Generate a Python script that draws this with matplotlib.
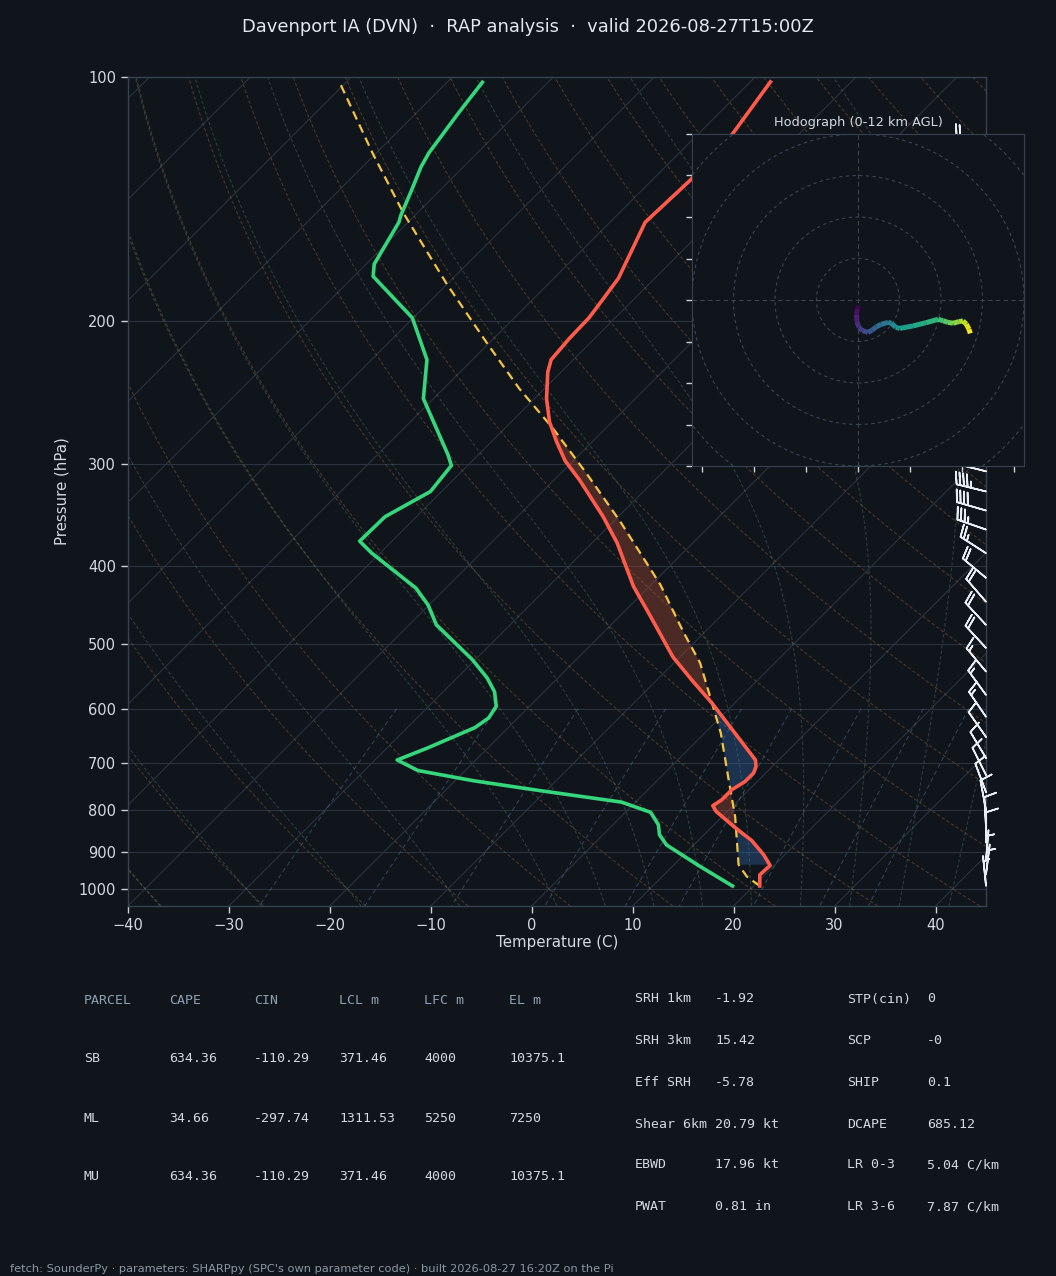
import numpy as np
import matplotlib
matplotlib.use("Agg")
import matplotlib.pyplot as plt
from matplotlib.axes import Axes
import matplotlib.axis as maxis
import matplotlib.spines as mspines
import matplotlib.transforms as transforms
from matplotlib.projections import register_projection
from matplotlib.collections import LineCollection
from matplotlib.patches import Circle
from matplotlib.ticker import MultipleLocator, FixedLocator, FixedFormatter, NullLocator
from contextlib import ExitStack

# ---------------- data ----------------
title_text = "Davenport IA (DVN)  \u00b7  RAP analysis  \u00b7  valid 2026-08-27T15:00Z"
footer_text = ("fetch: SounderPy \u00b7 parameters: SHARPpy (SPC's own parameter code) "
               "\u00b7 built 2026-08-27 16:20Z on the Pi")

# temperature profile (hPa, degC)
temp_p = [992, 961, 936, 908, 872, 842, 803, 790, 777, 755, 738, 720, 707, 694,
          591, 556, 518, 462, 424, 375, 348, 314, 297, 281, 266, 249, 231, 223,
          210, 198, 187, 177, 163, 151, 145, 134, 117.5, 101.4]
temp_c = [20.6, 19.5, 19.6, 17.9, 15.3, 12.5, 8.9, 8.0, 8.3, 8.3, 8.8, 8.8, 8.4, 7.7,
          -2.2, -6.2, -10.7, -16.9, -21.6, -27.5, -31.5, -37.4, -40.8, -43.6, -46.2,
          -48.8, -51.3, -52.2, -52.5, -52.6, -53.1, -53.6, -55.1, -56.5, -56.4, -56.2,
          -56.6, -58.0]

# dewpoint profile (hPa, degC)
dew_p = [992, 939, 883, 858, 834, 805, 782, 757, 736, 715, 694, 671, 633, 616, 596,
         572, 550, 522, 473, 447, 426, 386, 373, 348, 324, 301, 292, 249, 223, 198,
         176, 170, 151, 148, 138, 129, 124, 111, 101.5]
dew_c = [17.9, 12.8, 7.3, 5.6, 4.5, 2.5, -1.4, -10.6, -18.2, -24.7, -27.8, -26.0,
         -23.3, -22.9, -23.3, -24.9, -27.0, -30.3, -37.3, -40.1, -43.0, -50.8, -53.2,
         -53.1, -51.1, -51.6, -53.0, -61.0, -64.5, -70.1, -78.1, -79.2, -80.9, -81.4,
         -82.8, -84.2, -84.8, -85.8, -86.5]

# surface-based parcel path (hPa, degC)
parcel_p = [992, 966, 934, 815, 734, 643, 582, 527, 482, 422, 353, 308, 271, 242,
            212, 180, 147, 124, 102]
parcel_c = [20.6, 18.4, 16.4, 11.3, 7.0, 1.6, -2.9, -7.4, -12.2, -19.1, -29.3,
            -37.4, -45.2, -52.5, -60.4, -70.0, -81.4, -90.4, -100.4]
lcl_hpa = 934
el_hpa = 271

# wind barbs (hPa, kt)
barb_p = [992, 960, 922, 877, 840, 800, 760, 724, 690, 650, 614, 577, 540, 505, 473,
          443, 414, 386, 361, 342, 324, 306, 289, 273, 258, 244, 230, 217, 205, 194,
          183, 173, 163, 154, 145, 137, 129, 121]
barb_u = [0.3, -0.5, -0.5, 0.0, 0.5, 1.5, 3.0, 4.5, 6.0, 7.0, 7.5, 8.0, 10.0, 12.0,
          13.0, 13.0, 15.5, 21.0, 33.0, 38.0, 42.6, 44.0, 46.0, 48.0, 50.0, 51.0,
          52.0, 53.0, 53.5, 54.0, 52.0, 48.0, 44.0, 40.0, 35.0, 30.0, 26.0, 20.0]
barb_v = [-3.0, -4.0, -6.0, -8.0, -9.0, -8.0, -8.0, -9.0, -10.0, -10.0, -11.0, -11.0,
          -12.0, -13.0, -14.0, -15.0, -13.0, -13.5, -11.5, -11.0, -10.4, -11.0, -11.5,
          -10.5, -10.0, -11.0, -12.0, -13.5, -15.0, -16.0, -16.0, -15.0, -14.0, -12.0,
          -10.0, -9.0, -8.0, -5.0]

# hodograph trace 0-12 km (kt)
hodo_u = [0.3, -0.3, -0.8, -0.5, 0.5, 2.1, 4.8, 6.9, 8.8, 11.2, 14.5, 16.1, 18.2,
          20.1, 26.5, 32.9, 38.6, 41.0, 43.4, 45.8, 48.7, 50.6, 52.2, 53.5, 54.1]
hodo_v = [-2.9, -4.5, -7.2, -10.4, -13.2, -14.8, -15.6, -14.5, -12.9, -11.7, -10.8,
          -11.2, -13.2, -13.7, -12.5, -10.9, -9.3, -10.0, -10.8, -11.2, -10.4, -10.1,
          -11.6, -14.1, -16.1]
hodo_rings = [20, 40, 60, 80, 100]

# parameter tables
parcel_header = ["PARCEL", "CAPE", "CIN", "LCL m", "LFC m", "EL m"]
parcel_rows = [["SB", "634.36", "-110.29", "371.46", "4000", "10375.1"],
               ["ML", "34.66", "-297.74", "1311.53", "5250", "7250"],
               ["MU", "634.36", "-110.29", "371.46", "4000", "10375.1"]]
param_names_1 = ["SRH 1km", "SRH 3km", "Eff SRH", "Shear 6km", "EBWD", "PWAT"]
param_vals_1 = ["-1.92", "15.42", "-5.78", "20.79 kt", "17.96 kt", "0.81 in"]
param_names_2 = ["STP(cin)", "SCP", "SHIP", "DCAPE", "LR 0-3", "LR 3-6"]
param_vals_2 = ["0", "-0", "0.1", "685.12", "5.04 C/km", "7.87 C/km"]

p_ticks = [100, 200, 300, 400, 500, 600, 700, 800, 900, 1000]

# ---------------- styling ----------------
BG = "#10151b"
GRID = "#2a333f"
SPINE = "#364252"
TXT = "#d3d9e0"
T_COL = "#ff5b4b"
TD_COL = "#35d67c"
PARCEL_COL = "#f4c445"

W_PX, H_PX = 1056, 1276
DPI = 100
ax_l, ax_r, ax_t, ax_b = 128, 986, 77, 906


def _inside(interval, val):
    a, b = sorted(interval)
    return a - 1e-9 <= val <= b + 1e-9


class SkewXTick(maxis.XTick):
    def draw(self, renderer):
        with ExitStack() as stack:
            for artist in [self.gridline, self.tick1line, self.tick2line,
                           self.label1, self.label2]:
                stack.callback(artist.set_visible, artist.get_visible())
            needs_lower = _inside(self.axes.lower_xlim, self.get_loc())
            needs_upper = _inside(self.axes.upper_xlim, self.get_loc())
            self.tick1line.set_visible(self.tick1line.get_visible() and needs_lower)
            self.label1.set_visible(self.label1.get_visible() and needs_lower)
            self.tick2line.set_visible(self.tick2line.get_visible() and needs_upper)
            self.label2.set_visible(self.label2.get_visible() and needs_upper)
            super().draw(renderer)

    def get_view_interval(self):
        return self.axes.xaxis.get_view_interval()


class SkewXAxis(maxis.XAxis):
    def _get_tick(self, major):
        return SkewXTick(self.axes, None, major=major)

    def get_view_interval(self):
        return self.axes.upper_xlim[0], self.axes.lower_xlim[1]


class SkewSpine(mspines.Spine):
    def _adjust_location(self):
        pts = self._path.vertices
        if self.spine_type == 'top':
            pts[:, 0] = self.axes.upper_xlim
        else:
            pts[:, 0] = self.axes.lower_xlim


class SkewXAxes(Axes):
    name = 'skewx'
    rot = float(np.degrees(np.arctan((ax_b - ax_t) / (ax_r - ax_l))))

    def _init_axis(self):
        self.xaxis = SkewXAxis(self)
        self.spines.top.register_axis(self.xaxis)
        self.spines.bottom.register_axis(self.xaxis)
        self.yaxis = maxis.YAxis(self)
        self.spines.left.register_axis(self.yaxis)
        self.spines.right.register_axis(self.yaxis)

    def _gen_axes_spines(self):
        return {'top': SkewSpine.linear_spine(self, 'top'),
                'bottom': mspines.Spine.linear_spine(self, 'bottom'),
                'left': mspines.Spine.linear_spine(self, 'left'),
                'right': mspines.Spine.linear_spine(self, 'right')}

    def _set_lim_and_transforms(self):
        super()._set_lim_and_transforms()
        rot = self.rot
        self.transDataToAxes = (self.transScale + self.transLimits
                                + transforms.Affine2D().skew_deg(rot, 0))
        self.transData = self.transDataToAxes + self.transAxes
        self._xaxis_transform = (
            transforms.blended_transform_factory(
                self.transScale + self.transLimits, transforms.IdentityTransform())
            + transforms.Affine2D().skew_deg(rot, 0) + self.transAxes)

    @property
    def lower_xlim(self):
        return self.axes.viewLim.intervalx

    @property
    def upper_xlim(self):
        pts = [[0., 1.], [1., 1.]]
        return self.transDataToAxes.inverted().transform(pts)[:, 0]


register_projection(SkewXAxes)


# background thermodynamic guide lines
def moist_adiabats(p_grid, t0_c, p_ref=1000.0):
    Rd, Cp, Lv, eps = 287.04, 1005.7, 2.501e6, 0.622

    def f(p, T):
        es = 6.112 * np.exp(17.67 * (T - 273.15) / (T - 29.65))
        rs = eps * es / (p - es)
        return (Rd * T + Lv * rs) / (Cp + Lv * Lv * rs * eps / (Rd * T * T)) / p

    out = np.zeros((len(t0_c), len(p_grid)))
    i0 = int(np.argmin(np.abs(p_grid - p_ref)))
    T = np.asarray(t0_c, float) + 273.15
    out[:, i0] = T
    for rng in (range(i0, len(p_grid) - 1), range(i0, 0, -1)):
        Tc = T.copy()
        for i in rng:
            j = i + 1 if rng.step > 0 else i - 1
            p0, p1 = p_grid[i], p_grid[j]
            h = p1 - p0
            k1 = f(p0, Tc)
            k2 = f(p0 + h / 2, Tc + h / 2 * k1)
            k3 = f(p0 + h / 2, Tc + h / 2 * k2)
            k4 = f(p1, Tc + h * k3)
            Tc = Tc + h / 6 * (k1 + 2 * k2 + 2 * k3 + k4)
            out[:, j] = Tc
    return out - 273.15


fig = plt.figure(figsize=(W_PX / DPI, H_PX / DPI), dpi=DPI, facecolor=BG)
ax = fig.add_axes([ax_l / W_PX, 1 - ax_b / H_PX, (ax_r - ax_l) / W_PX, (ax_b - ax_t) / H_PX],
                  projection='skewx', facecolor=BG)
ax.set_yscale('log')
ax.set_ylim(1050, 100)
ax.set_xlim(-40, 45)
ax.xaxis.set_major_locator(MultipleLocator(10))
ax.yaxis.set_major_locator(FixedLocator(p_ticks))
ax.yaxis.set_major_formatter(FixedFormatter([str(v) for v in p_ticks]))
ax.yaxis.set_minor_locator(NullLocator())
ax.grid(True, color=GRID, lw=0.8, ls='-')
ax.set_axisbelow(True)
for s in ax.spines.values():
    s.set_color(SPINE)
    s.set_linewidth(1.0)
ax.tick_params(colors="#c9d1d9", labelcolor=TXT, labelsize=10.5, length=5, width=1)

p_grid = np.linspace(1050, 100, 191)
# dry adiabats
theta0 = np.arange(-40, 241, 10)
for t0 in theta0:
    tline = (t0 + 273.15) * (p_grid / 1000.0) ** 0.2857 - 273.15
    ax.plot(tline, p_grid, color="#b07a40", alpha=0.35, lw=0.8, ls=(0, (3, 2)), zorder=1)
# moist adiabats
tm0 = np.concatenate((np.arange(-40, 0, 10), np.arange(0, 46, 5)))
for tline in moist_adiabats(p_grid, tm0):
    ax.plot(tline, p_grid, color="#5f9478", alpha=0.33, lw=0.8, ls=(0, (3, 2)), zorder=1)
# mixing ratio lines
w_vals = [0.0004, 0.001, 0.002, 0.004, 0.007, 0.01, 0.016, 0.024, 0.032]
p_mix = np.linspace(600, 1050, 50)
for w in w_vals:
    e = p_mix * w / (0.622 + w)
    lg = np.log(e / 6.112)
    td = 243.5 * lg / (17.67 - lg)
    ax.plot(td, p_mix, color="#5b84aa", alpha=0.4, lw=0.8, ls=(0, (4, 3)), zorder=1)

# CAPE / CIN shading between LCL and EL
pf = np.geomspace(lcl_hpa, el_hpa, 600)
t_f = np.interp(np.log(pf), np.log(temp_p[::-1]), temp_c[::-1])
pc_f = np.interp(np.log(pf), np.log(parcel_p[::-1]), parcel_c[::-1])
ax.fill_betweenx(pf, t_f, pc_f, where=pc_f >= t_f, interpolate=True,
                 facecolor="#c8553d", alpha=0.32, lw=0, zorder=2)
ax.fill_betweenx(pf, t_f, pc_f, where=pc_f < t_f, interpolate=True,
                 facecolor="#3a78c8", alpha=0.3, lw=0, zorder=2)

ax.plot(parcel_c, parcel_p, color=PARCEL_COL, lw=1.6, ls=(0, (4, 2.5)), zorder=3)
ax.plot(temp_c, temp_p, color=T_COL, lw=2.6, zorder=4, solid_joinstyle='round')
ax.plot(dew_c, dew_p, color=TD_COL, lw=2.6, zorder=4, solid_joinstyle='round')

ax.barbs(np.ones(len(barb_p)), barb_p, barb_u, barb_v,
         transform=ax.get_yaxis_transform(), length=6.6, color="#e8eef4",
         linewidth=1.2, clip_on=False, zorder=5)

ax.set_xlabel("Temperature (C)", color=TXT, fontsize=10.8)
ax.set_ylabel("Pressure (hPa)", color=TXT, fontsize=10.8)
ax.xaxis.set_label_coords(0.5, -0.035)
ax.yaxis.set_label_coords(-0.068, 0.5)

# hodograph inset
hx0, hx1, hy0, hy1 = 692, 1024, 134, 466
hax = fig.add_axes([hx0 / W_PX, 1 - hy1 / H_PX, (hx1 - hx0) / W_PX, (hy1 - hy0) / H_PX],
                   facecolor=BG, zorder=5)
hax.set_xlim(-80, 80)
hax.set_ylim(-80, 80)
for r in hodo_rings:
    hax.add_patch(Circle((0, 0), r, fill=False, ec="#3a4554", lw=0.8, ls=(0, (3, 3))))
hax.axhline(0, color="#3a4554", lw=0.8, ls=(0, (4, 3)))
hax.axvline(0, color="#3a4554", lw=0.8, ls=(0, (4, 3)))
pts = np.column_stack([hodo_u, hodo_v])
segs = np.stack([pts[:-1], pts[1:]], axis=1)
lc = LineCollection(segs, colors=plt.cm.viridis(np.linspace(0, 1, len(segs))),
                    linewidths=3.6, capstyle='butt')
hax.add_collection(lc)
hax.xaxis.set_major_locator(MultipleLocator(25))
hax.yaxis.set_major_locator(MultipleLocator(20))
hax.set_xlim(-80, 80)
hax.set_ylim(-80, 80)
hax.tick_params(labelbottom=False, labelleft=False, colors="#c9d1d9", length=4, width=1)
for s in hax.spines.values():
    s.set_color(SPINE)
hax.set_title("Hodograph (0-12 km AGL)", color=TXT, fontsize=9.3, pad=6)

# title & footer
fig.text(0.5, 1 - 27 / H_PX, title_text, ha='center', va='center', color="#e3e8ee",
         fontsize=12.9)
fig.text(10 / W_PX, 1 - 1269 / H_PX, footer_text, ha='left', va='center',
         color="#8b97a5", fontsize=8.2)

# parameter tables
mono = "DejaVu Sans Mono"
col_x = [84, 169, 254, 339, 424, 509]
row_y = [1000, 1059, 1118, 1176]
for x, h in zip(col_x, parcel_header):
    fig.text(x / W_PX, 1 - row_y[0] / H_PX, h, family=mono, fontsize=9.5,
             color="#8fa0b4", ha='left', va='center')
for y, row in zip(row_y[1:], parcel_rows):
    for x, v in zip(col_x, row):
        fig.text(x / W_PX, 1 - y / H_PX, v, family=mono, fontsize=9.5,
                 color=TXT, ha='left', va='center')

prow_y = [999, 1041, 1082, 1124, 1165, 1207]
for y, n1, v1, n2, v2 in zip(prow_y, param_names_1, param_vals_1, param_names_2, param_vals_2):
    for x, t in ((635, n1), (715, v1), (847, n2), (927, v2)):
        fig.text(x / W_PX, 1 - y / H_PX, t, family=mono, fontsize=9.5,
                 color=TXT, ha='left', va='center')

fig.savefig("out.png", dpi=DPI, facecolor=BG)
